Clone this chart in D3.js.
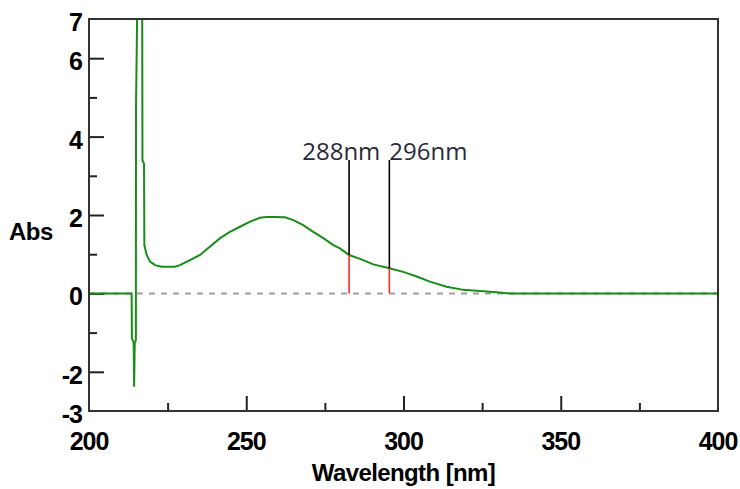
<!DOCTYPE html>
<html>
<head>
<meta charset="utf-8">
<script src="https://cdn.jsdelivr.net/npm/d3@7"></script>
<style>
  body { margin: 0; background: #fff; }
  svg { display: block; }
</style>
</head>
<body>
<main></main>
<script>
// spectrum
const wavelengths = [200, 213.55, 213.65, 214.2, 214.35, 214.55, 214.9, 214.95, 215.45, 216.9, 217.0, 217.5, 217.6,
  218.35, 219.4, 221.0, 223.1, 227.3, 228.9, 232.1, 235.3, 238.4, 241.7, 244.8, 248.0, 251.2, 254.3, 256.5,
  259.1, 262.3, 265.0, 268.1, 271.3, 274.5, 277.7, 279.8, 282.7, 286.2, 290.4, 295.5, 299.9, 304.2, 308.4,
  313.7, 319.0, 324.3, 329.6, 333.9, 400];
const absorbance = [0, 0, -1.15, -1.25, -2.38, -1.25, -1.2, 4.76, 8, 8, 3.4, 3.3, 1.23,
  0.98, 0.81, 0.72, 0.68, 0.68, 0.72, 0.85, 0.98, 1.19, 1.41, 1.57, 1.70, 1.83, 1.93, 1.95,
  1.95, 1.94, 1.87, 1.74, 1.57, 1.41, 1.23, 1.15, 0.98, 0.88, 0.74, 0.64, 0.55, 0.43, 0.30,
  0.17, 0.09, 0.06, 0.03, 0, 0];

const xTickLabels = [200, 250, 300, 350, 400],
  xMinorTicks = [225, 275, 325, 375],
  yTickLabels = [7, 6, 4, 2, 0, -2, -3],
  yMajorTicks = [6, 4, 2, 0, -2],
  yMinorTicks = [5, 3, 1, -1];

const markerWl = [282.7, 295.5],
  markerLabels = ["288nm", "296nm"],
  markerTop = 3.4;

const svgWidth = 740,
  svgHeight = 489,
  pLeft = 89, pRight = 718, pTop = 19, pBottom = 411;

const xScale = d3.scaleLinear().domain([200, 400]).range([pLeft, pRight]),
  yScale = d3.scaleLinear().domain([-3, 7]).range([pBottom, pTop]);

const data = wavelengths.map((w, i) => ({ w: w, a: absorbance[i] }));

const svg = d3.select("main").append("svg")
  .attr("width", svgWidth)
  .attr("height", svgHeight);

svg.append("clipPath").attr("id", "plot")
  .append("rect")
  .attr("x", pLeft).attr("y", pTop)
  .attr("width", pRight - pLeft).attr("height", pBottom - pTop);

// zero line
svg.append("line")
  .attr("x1", xScale(200)).attr("x2", xScale(400))
  .attr("y1", yScale(0)).attr("y2", yScale(0))
  .attr("stroke", "#a0a0a0")
  .attr("stroke-width", 2)
  .attr("stroke-dasharray", "6,6");

// ticks, pointing inward
const tickStyle = g => {
  g.select(".domain").remove();
  g.selectAll("line").attr("stroke", "#222").attr("stroke-width", 2);
};
svg.append("g").attr("transform", `translate(0,${pBottom})`)
  .call(d3.axisTop(xScale).tickValues(xTickLabels.slice(1, -1)).tickSize(15).tickFormat(""))
  .call(tickStyle);
svg.append("g").attr("transform", `translate(0,${pBottom})`)
  .call(d3.axisTop(xScale).tickValues(xMinorTicks).tickSize(8).tickFormat(""))
  .call(tickStyle);
svg.append("g").attr("transform", `translate(${pLeft},0)`)
  .call(d3.axisRight(yScale).tickValues(yMajorTicks).tickSize(15).tickFormat(""))
  .call(tickStyle);
svg.append("g").attr("transform", `translate(${pLeft},0)`)
  .call(d3.axisRight(yScale).tickValues(yMinorTicks).tickSize(8).tickFormat(""))
  .call(tickStyle);

// spectrum
const line = d3.line().x(d => xScale(d.w)).y(d => yScale(d.a));
svg.append("path")
  .datum(data)
  .attr("clip-path", "url(#plot)")
  .attr("d", line)
  .attr("fill", "none")
  .attr("stroke", "#1a8c1a")
  .attr("stroke-width", 2);

// markers
const absAt = w => {
  const i = d3.bisector(d => d.w).right(data, w);
  const a = data[i - 1], b = data[i];
  return a.a + (b.a - a.a) * (w - a.w) / (b.w - a.w);
};
markerWl.forEach(w => {
  svg.append("line")
    .attr("x1", xScale(w)).attr("x2", xScale(w))
    .attr("y1", yScale(markerTop)).attr("y2", yScale(absAt(w)))
    .attr("stroke", "#000").attr("stroke-width", 1.6);
  svg.append("line")
    .attr("x1", xScale(w)).attr("x2", xScale(w))
    .attr("y1", yScale(absAt(w))).attr("y2", yScale(0))
    .attr("stroke", "#ff2828").attr("stroke-width", 1.6);
});
const mLabels = svg.selectAll(".mlabel").data(markerLabels).join("text")
  .attr("class", "mlabel")
  .attr("x", (d, i) => xScale(markerWl[i]))
  .attr("y", yScale(markerTop))
  .attr("font-family", "Open Sans")
  .attr("font-size", 24)
  .attr("fill", "#2a2a3a")
  .text(d => d);
// push earlier labels left so they don't overlap
const nodes = mLabels.nodes();
for (let i = nodes.length - 2; i >= 0; i--) {
  const nextX = +d3.select(nodes[i + 1]).attr("x");
  const w = nodes[i].getComputedTextLength();
  const x = +d3.select(nodes[i]).attr("x");
  if (x + w > nextX - 9) d3.select(nodes[i]).attr("x", nextX - 9 - w);
}

// frame
svg.append("rect")
  .attr("x", pLeft).attr("y", pTop)
  .attr("width", pRight - pLeft).attr("height", pBottom - pTop)
  .attr("fill", "none")
  .attr("stroke", "#333")
  .attr("stroke-width", 2);

// tick labels
svg.selectAll(".xl").data(xTickLabels).join("text")
  .attr("x", d => xScale(d))
  .attr("y", 450)
  .attr("text-anchor", "middle")
  .attr("font-family", "Liberation Sans, Arial")
  .attr("font-weight", "bold")
  .attr("font-size", 25)
  .attr("letter-spacing", -1)
  .text(d => d);
svg.selectAll(".yl").data(yTickLabels).join("text")
  .attr("x", 82)
  .attr("y", d => yScale(d) + 12)
  .attr("text-anchor", "end")
  .attr("font-family", "Liberation Sans, Arial")
  .attr("font-weight", "bold")
  .attr("font-size", 25)
  .attr("letter-spacing", -1)
  .text(d => d);

svg.append("text")
  .attr("x", 9).attr("y", 240)
  .attr("font-family", "Liberation Sans, Arial")
  .attr("font-weight", "bold")
  .attr("font-size", 24)
  .attr("letter-spacing", -0.5)
  .text("Abs");
svg.append("text")
  .attr("x", (pLeft + pRight) / 2).attr("y", 481)
  .attr("text-anchor", "middle")
  .attr("font-family", "Liberation Sans, Arial")
  .attr("font-weight", "bold")
  .attr("font-size", 24)
  .attr("letter-spacing", -0.6)
  .text("Wavelength [nm]");
</script>
</body>
</html>
